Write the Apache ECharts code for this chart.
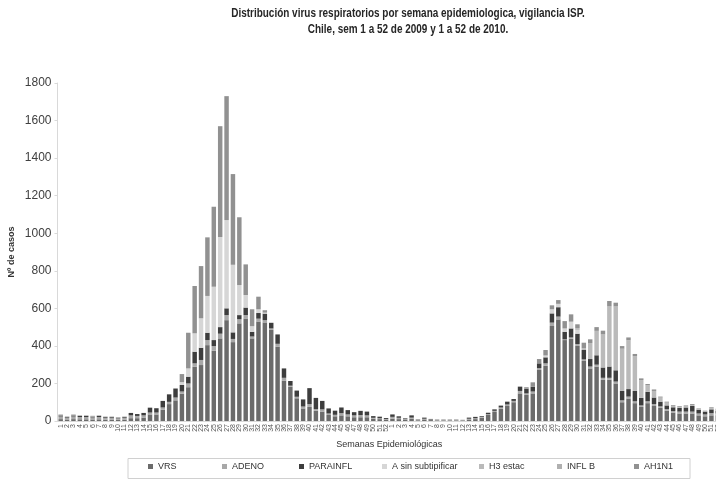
<!DOCTYPE html>
<html><head><meta charset="utf-8">
<script src="https://cdn.jsdelivr.net/npm/echarts@6/dist/echarts.min.js"></script>
<style>html,body{margin:0;padding:0;background:#fff}#c{width:716px;height:483px}</style>
</head><body><div id="c"></div>
<script>
const weeks2009 = [1,2,3,4,5,6,7,8,9,10,11,12,13,14,15,16,17,18,19,20,21,22,23,24,25,26,27,28,29,30,31,32,33,34,35,36,37,38,39,40,41,42,43,44,45,46,47,48,49,50,51,52];
const weeks2010 = [1,2,3,4,5,6,7,8,9,10,11,12,13,14,15,16,17,18,19,20,21,22,23,24,25,26,27,28,29,30,31,32,33,34,35,36,37,38,39,40,41,42,43,44,45,46,47,48,49,50,51,52];
const yTicks = [0,200,400,600,800,1000,1200,1400,1600,1800];

// 2009 series (weeks 1-52)
const vrs2009 = [10,8,10,9,9,8,9,7,7,6,7,15,15,18,35,35,60,90,110,145,180,289,298,404,374,440,537,420,520,546,440,530,525,485,396,215,183,121,67,75,55,50,32,25,30,25,20,20,20,12,10,8];
const adeno2009 = [14,10,14,12,12,11,12,10,10,8,10,15,12,12,10,10,12,12,15,12,20,18,27,27,25,25,27,17,22,18,10,15,12,8,15,15,5,8,10,15,8,12,8,8,12,10,10,12,10,5,5,3];
const para2009 = [6,4,6,6,6,5,6,4,4,4,4,13,10,13,26,23,35,40,48,35,36,62,65,39,32,35,36,35,22,40,25,30,35,30,50,50,25,33,38,85,60,45,27,22,30,23,17,22,20,9,8,5];
const asin2009 = [0,0,0,0,0,0,0,0,0,0,0,0,0,0,0,0,0,0,0,15,44,98,157,196,284,480,470,360,160,67,30,20,5,0,0,0,0,0,0,0,0,0,0,0,0,0,0,0,0,0,0,0];
const h32009 = [3,2,3,2,2,2,2,2,2,2,2,0,0,0,0,0,0,0,0,0,0,0,0,0,0,0,0,0,0,0,0,0,0,0,0,0,0,0,0,0,0,0,0,0,0,0,0,0,0,0,0,0];
const inflb2009 = [3,1,3,3,3,2,3,2,2,1,2,0,0,0,0,0,0,0,0,0,0,0,0,0,0,0,0,0,0,0,0,0,0,0,0,0,0,0,0,0,0,0,0,0,0,0,0,0,0,0,0,0];
const ah1n12009 = [0,0,0,0,0,0,0,0,0,0,0,0,0,0,0,0,0,0,0,43,190,252,278,312,426,590,660,483,361,163,90,67,13,0,0,0,0,0,0,0,0,0,0,0,0,0,0,0,0,0,0,0];

// 2010 series (weeks 1-52)
const vrs2010 = [12,10,6,12,4,8,5,3,3,3,3,3,8,10,18,32,48,65,80,100,147,139,147,272,294,506,541,431,438,400,320,280,290,220,220,200,100,120,95,75,95,80,70,55,45,40,40,40,30,25,30,30];
const adeno2010 = [10,7,4,6,2,4,3,2,2,2,2,2,4,5,4,5,6,7,8,7,13,8,10,10,13,18,15,4,7,10,8,10,10,10,10,10,10,10,10,8,10,10,8,8,8,10,10,10,10,10,12,10];
const para2010 = [13,8,4,12,2,6,3,2,2,2,2,1,6,7,4,7,8,10,15,10,23,25,25,25,32,49,50,40,48,55,50,40,50,55,60,60,50,40,55,40,50,35,25,20,20,20,22,30,20,15,20,15];
const asin2010 = [0,0,0,0,0,0,0,0,0,0,0,0,0,0,0,0,0,0,0,0,0,0,0,0,10,22,18,18,36,20,0,0,0,0,0,0,0,0,0,0,0,0,0,0,0,0,0,0,0,0,0,0];
const h32010 = [0,0,0,0,0,0,0,0,0,0,0,0,0,0,0,0,0,0,0,0,0,0,0,0,0,0,0,0,0,10,10,85,130,176,320,340,225,260,185,95,35,35,22,15,8,6,6,5,4,3,6,5];
const inflb2010 = [0,0,0,0,0,0,0,0,0,0,0,0,0,0,0,0,0,0,0,0,0,0,0,0,0,0,0,0,0,0,0,0,0,0,0,0,0,0,0,0,0,0,0,0,0,0,0,0,0,0,0,0];
const ah1n12010 = [0,0,0,0,0,0,0,0,0,0,0,0,0,0,0,0,0,0,0,0,0,8,24,23,29,21,20,39,39,20,29,20,20,20,29,20,14,15,12,9,7,8,5,5,4,4,5,5,3,2,5,5];

const seriesNames = ['VRS','ADENO','PARAINFL','A sin subtipificar','H3 estac','INFL B','AH1N1'];
const seriesColors = ['#6b6b6b','#a8a8a8','#3d3d3d','#d6d6d6','#bababa','#b0b0b0','#919191'];
const titleLines = ['Distribución virus respiratorios por semana epidemiologica, vigilancia ISP.','Chile, sem 1 a 52 de 2009 y 1 a 52 de 2010.'];

const categories = weeks2009.map(String).concat(weeks2010.map(String));
const seriesData = [
  vrs2009.concat(vrs2010),
  adeno2009.concat(adeno2010),
  para2009.concat(para2010),
  asin2009.concat(asin2010),
  h32009.concat(h32010),
  inflb2009.concat(inflb2010),
  ah1n12009.concat(ah1n12010)
];

const legendX = [148,222,299,382,479,557,634];
const FONT = 'Liberation Sans, Arial, sans-serif';

const chart = echarts.init(document.getElementById('c'), null, {renderer:'canvas'});
chart.setOption({
  animation: false,
  backgroundColor: '#fff',
  legend: seriesNames.map((n,i) => ({
    data: [n], left: legendX[i], top: 462, icon: 'rect', itemWidth: 5, itemHeight: 5, itemGap: 4,
    textStyle: {fontFamily: FONT, fontSize: 9, color: '#333'}, selectedMode: false, padding: 0
  })),
  graphic: [
    {type:'rect', shape:{x:128, y:458.5, width:562, height:20}, style:{fill:'none', stroke:'#d0d0d0', lineWidth:1}, silent:true},
    {type:'text', x:408, y:14, scaleX:0.83, style:{text:titleLines[0], font:'bold 12px Liberation Sans, Arial, sans-serif', fill:'#262626', align:'center', verticalAlign:'middle'}, silent:true},
    {type:'text', x:408, y:30, scaleX:0.83, style:{text:titleLines[1], font:'bold 12px Liberation Sans, Arial, sans-serif', fill:'#262626', align:'center', verticalAlign:'middle'}, silent:true}
  ],
  grid: {left: 57.5, top: 83, width: 663.5, height: 338, containLabel: false, outerBoundsMode: 'none'},
  xAxis: {
    type: 'category', data: categories,
    name: 'Semanas Epidemiológicas', nameLocation: 'middle', nameGap: 19,
    nameTextStyle: {fontFamily: FONT, fontSize: 9, color: '#333'},
    axisLine: {lineStyle: {color: '#d9d9d9'}},
    axisTick: {show: false},
    axisLabel: {interval: 0, rotate: 90, fontSize: 7, margin: 3, color: '#555', fontFamily: FONT}
  },
  yAxis: {
    type: 'value', min: 0, max: 1800, interval: 200,
    name: 'Nº de casos', nameLocation: 'middle', nameGap: 41, nameRotate: 90, nameMoveOverlap: false,
    nameTextStyle: {fontFamily: FONT, fontSize: 9, fontWeight: 'bold', color: '#333'},
    axisLine: {show: true, lineStyle: {color: '#d9d9d9'}},
    axisTick: {show: true, length: 3, lineStyle: {color: '#d9d9d9'}},
    splitLine: {show: false},
    axisLabel: {fontSize: 12, color: '#404040', fontFamily: FONT, margin: 6, formatter: v => String(v)}
  },
  series: seriesNames.map((n,i) => ({
    name: n, type: 'bar', stack: 'total', data: seriesData[i],
    barCategoryGap: '30%', itemStyle: {color: seriesColors[i]}
  }))
});
</script></body></html>
